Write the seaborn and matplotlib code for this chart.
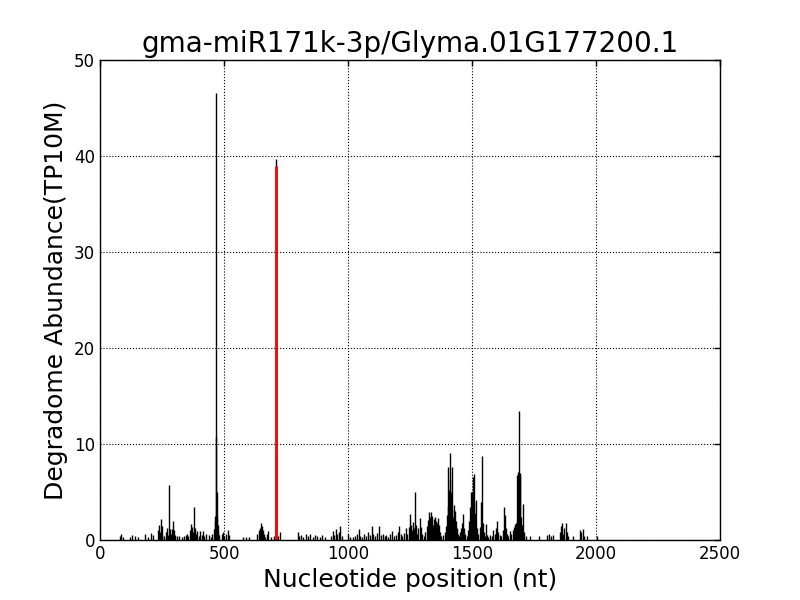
import numpy as np
import pandas as pd
import matplotlib
matplotlib.use('Agg')
import matplotlib.pyplot as plt
import seaborn as sns

# Degradome tags along the transcript (position in nt, abundance TP10M)
positions = [80, 86, 92, 121, 128, 140, 152, 183, 195, 206, 214, 232, 236, 240, 244, 248,
             252, 258, 266, 270, 274, 278, 282, 286, 290, 294, 298, 304, 312, 320, 330, 338,
             346, 352, 356, 362, 366, 370, 374, 379, 383, 388, 392, 398, 404, 410, 416, 420,
             426, 440, 446, 452, 458, 462, 464, 466, 468, 470, 472, 474, 476, 480, 490, 496,
             502, 510, 516, 522, 577, 588, 600, 635, 640, 645, 648, 652, 656, 660, 666, 672,
             676, 690, 700, 708, 711, 716, 726, 798, 804, 812, 820, 830, 838, 846, 858, 868,
             876, 886, 896, 906, 930, 938, 944, 950, 956, 962, 967, 975, 1000, 1008, 1020,
             1030, 1038, 1044, 1050, 1058, 1066, 1072, 1080, 1088, 1095, 1102, 1110, 1118,
             1125, 1132, 1140, 1148, 1155, 1162, 1170, 1176, 1184, 1192, 1200, 1206, 1212,
             1218, 1224, 1232, 1238, 1244, 1250, 1254, 1258, 1262, 1266, 1270, 1274, 1278,
             1284, 1290, 1294, 1300, 1306, 1312, 1318, 1322, 1326, 1330, 1334, 1338, 1342,
             1346, 1350, 1354, 1358, 1362, 1366, 1370, 1376, 1384, 1390, 1394, 1398, 1402,
             1404, 1406, 1408, 1410, 1412, 1414, 1416, 1418, 1420, 1422, 1426, 1428, 1430,
             1434, 1438, 1442, 1448, 1452, 1456, 1460, 1464, 1468, 1472, 1478, 1482, 1486,
             1490, 1494, 1498, 1500, 1504, 1508, 1510, 1514, 1518, 1522, 1526, 1532, 1536,
             1540, 1544, 1548, 1552, 1556, 1560, 1566, 1572, 1580, 1586, 1592, 1597, 1601,
             1606, 1612, 1618, 1624, 1628, 1632, 1636, 1640, 1646, 1652, 1658, 1664, 1668,
             1672, 1676, 1680, 1683, 1686, 1689, 1692, 1695, 1698, 1702, 1706, 1710, 1716,
             1734, 1770, 1802, 1810, 1818, 1826, 1855, 1860, 1864, 1868, 1872, 1878, 1882,
             1888, 1907, 1935, 1940, 1946, 1950, 1964, 2004]
abundance = [0.4, 0.6, 0.3, 0.3, 0.5, 0.4, 0.3, 0.6, 0.3, 0.7, 0.5, 1.0, 1.6, 0.8, 2.2, 1.5,
             0.6, 0.4, 0.8, 1.2, 0.5, 5.7, 1.1, 0.6, 1.1, 2.0, 1.0, 0.5, 0.4, 0.4, 0.3, 0.4,
             0.5, 0.6, 0.4, 1.0, 1.7, 1.4, 0.8, 3.4, 1.2, 0.6, 0.9, 0.4, 0.9, 0.5, 0.9, 0.4,
             0.6, 0.5, 0.3, 0.6, 1.1, 2.0, 2.5, 10.7, 46.6, 5.0, 2.4, 1.6, 0.9, 0.5, 0.6, 0.8,
             0.4, 0.6, 1.0, 0.5, 0.3, 0.3, 0.3, 0.6, 1.0, 1.3, 1.8, 1.5, 1.0, 0.6, 0.3, 0.6,
             0.9, 0.3, 0.4, 39.7, 9.1, 0.4, 0.8, 0.8, 0.4, 0.5, 0.3, 0.6, 0.4, 0.6, 0.3, 0.5,
             0.4, 0.3, 0.5, 0.3, 0.4, 0.9, 0.5, 1.1, 0.6, 0.8, 1.5, 0.4, 0.6, 0.3, 0.3,
             0.4, 0.6, 1.1, 0.4, 0.3, 0.6, 0.4, 0.8, 0.5, 1.5, 0.6, 0.4, 0.7,
             1.5, 0.5, 0.6, 0.4, 0.5, 0.3, 0.6, 0.9, 0.4, 0.5, 0.8, 1.5, 0.6,
             0.4, 0.7, 1.2, 0.6, 1.4, 2.7, 1.6, 1.0, 1.9, 1.2, 5.0, 1.6, 0.6,
             1.2, 2.3, 1.4, 0.6, 0.4, 0.8, 1.5, 2.1, 2.9, 2.4, 2.9, 2.5, 1.6,
             2.2, 2.4, 2.0, 1.8, 2.3, 1.6, 0.8, 0.4, 0.5, 0.8, 1.5, 2.6, 3.5,
             7.6, 5.2, 4.0, 6.4, 9.1, 5.0, 4.4, 7.6, 3.2, 2.4, 3.6, 1.8, 3.0,
             2.0, 1.2, 0.6, 0.4, 0.8, 1.2, 1.8, 2.7, 1.2, 0.6, 0.4, 1.0, 2.0,
             3.4, 5.0, 3.2, 5.0, 6.6, 6.9, 4.0, 2.8, 4.2, 1.2, 0.6, 1.4, 4.0,
             8.7, 1.8, 0.8, 0.4, 1.7, 0.5, 0.3, 0.5, 0.4, 1.0, 0.6, 1.3, 2.0,
             0.8, 0.5, 0.4, 1.0, 3.4, 2.6, 1.2, 0.6, 0.4, 0.9, 0.6, 1.0, 1.4,
             1.7, 1.8, 2.0, 6.8, 7.1, 13.4, 6.8, 7.0, 2.4, 1.6, 3.8, 0.8, 0.4,
             0.4, 0.4, 0.5, 0.6, 0.4, 0.5, 0.8, 1.5, 1.8, 0.6, 1.2, 1.8, 0.8,
             0.4, 0.4, 1.0, 0.8, 1.1, 0.4, 0.4, 0.4]

# miRNA cleavage site (highlighted in red)
site_position = [708]
site_abundance = [39.0]

tags = pd.DataFrame({'pos': positions, 'abund': abundance})
site = pd.DataFrame({'pos': site_position, 'abund': site_abundance})

sns.set_style('white')
plt.rcParams['font.family'] = ['DejaVu Sans']
plt.rcParams['text.color'] = 'black'
plt.rcParams['axes.labelcolor'] = 'black'
plt.rcParams['xtick.color'] = 'black'
plt.rcParams['ytick.color'] = 'black'

fig, ax = plt.subplots(figsize=(8, 6), dpi=100)
fig.subplots_adjust(left=0.125, right=0.9, bottom=0.1, top=0.9)

ax.vlines(tags['pos'], 0, tags['abund'], color='black', linewidth=1.0)
ax.vlines(site['pos'], 0, site['abund'], color='red', linewidth=2.0)

ax.set_xlim(0, 2500)
ax.set_ylim(0, 50)
ax.set_xticks(np.arange(0, 2501, 500))
ax.set_yticks(np.arange(0, 51, 10))
ax.grid(True, color='black', linestyle=':', linewidth=0.8)
ax.tick_params(direction='in', top=True, right=True, labelsize=12, length=4, width=1,
               colors='black')
for s in ax.spines.values():
    s.set_color('black')
    s.set_linewidth(1.0)

ax.set_title('gma-miR171k-3p/Glyma.01G177200.1', fontsize=20, color='black')
ax.set_xlabel('Nucleotide position (nt)', fontsize=18, color='black')
ax.set_ylabel('Degradome Abundance(TP10M)', fontsize=18, color='black')

plt.savefig('out.png', dpi=100)
